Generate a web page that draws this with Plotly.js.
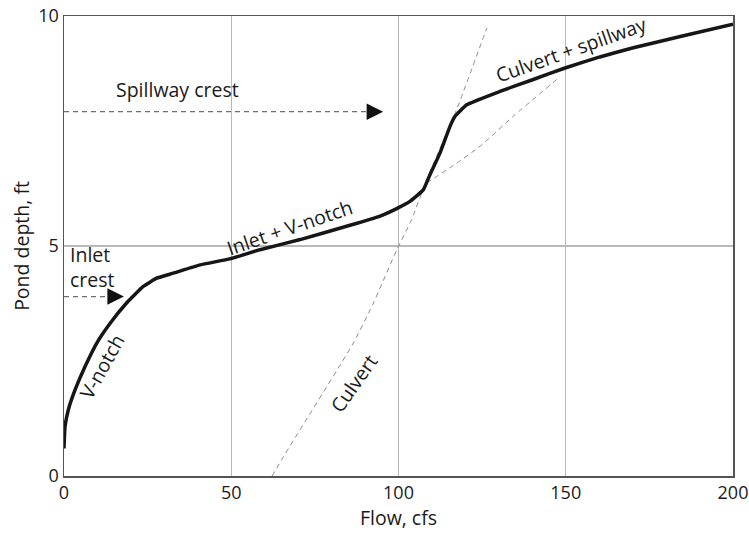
<!DOCTYPE html>
<html>
<head>
<meta charset="utf-8">
<script src="https://cdn.plot.ly/plotly-3.0.1.min.js"></script>
<style>html,body{margin:0;padding:0;background:#fff;}#chart{width:749px;height:540px;}</style>
</head>
<body>
<div id="chart"></div>
<script>
// Combined stage-discharge curve (thick black)
const totalFlow  = [0, 0.3, 1.3, 3.3, 6.3, 9.8, 13.8, 18.7, 23.7, 27.7, 32.7, 40.7, 49.6, 58.6, 70.6, 85.5, 94.5, 99.9, 103.4, 107.4, 109.4, 112.4, 115.4, 116.9, 120.4, 130.3, 140.3, 149.8, 160.2, 170.2, 185.2, 200];
const totalDepth = [0.6, 1.07, 1.44, 1.87, 2.38, 2.89, 3.32, 3.76, 4.12, 4.30, 4.41, 4.59, 4.72, 4.92, 5.14, 5.45, 5.65, 5.83, 5.97, 6.22, 6.55, 7.02, 7.60, 7.82, 8.07, 8.36, 8.62, 8.87, 9.11, 9.31, 9.57, 9.82];

// Culvert-only curve (dashed)
const culvertFlow  = [62.2, 65.6, 86.5, 92.5, 99.5, 103.9, 108.4, 117.4, 126.4];
const culvertDepth = [0, 0.42, 2.89, 3.76, 4.92, 5.57, 6.44, 7.97, 9.74];

// Inlet + V-notch extension (dashed)
const extFlow  = [108.4, 117.4, 124.4, 134.3, 147.3];
const extDepth = [6.37, 6.80, 7.17, 7.82, 8.62];

// Crest levels and arrow tips
const crestNames  = ["Spillway crest", "Inlet<br>crest"];
const crestDepth  = [7.92, 3.9];
const crestArrowX = [95.4, 17.9];

// Curve labels
const labelText  = ["V-notch", "Inlet + V-notch", "Culvert", "Culvert + spillway"];
const labelX     = [11.3, 67.3, 86.5, 151.5];
const labelY     = [2.38, 5.40, 2.02, 9.27];
const labelAngle = [-61, -19, -55, -19.5];

const xTicks = [0, 50, 100, 150, 200];
const yTicks = [0, 5, 10];

const FONT = "'Open Sans', Lato, sans-serif";
const TXT = 19.5;
const dashGray = "#8c8c8c";

const traces = [
  {x: culvertFlow, y: culvertDepth, mode: "lines", line: {color: dashGray, width: 1, dash: "5px,4px", shape: "spline", smoothing: 0.5}, hoverinfo: "skip"},
  {x: extFlow, y: extDepth, mode: "lines", line: {color: dashGray, width: 1, dash: "5px,4px", shape: "spline", smoothing: 0.5}, hoverinfo: "skip"},
  {x: totalFlow, y: totalDepth, mode: "lines", line: {color: "#161616", width: 3.5, shape: "spline", smoothing: 0.35}, hoverinfo: "skip"}
];

const shapes = crestDepth.map((d, i) => ({
  type: "line", xref: "x", yref: "y", x0: 0, x1: crestArrowX[i] - 3, y0: d, y1: d,
  line: {color: "#6e6e6e", width: 1.2, dash: "5px,4px"}
}));

const annotations = [];
crestDepth.forEach((d, i) => {
  annotations.push({x: crestArrowX[i], y: d, xref: "x", yref: "y", ax: -8, ay: 0,
    showarrow: true, arrowhead: 2, arrowsize: 3, arrowwidth: 1.1, arrowcolor: "#111", standoff: 0, text: ""});
});
annotations.push({x: 34, y: 8.4, xref: "x", yref: "y", text: crestNames[0], showarrow: false,
  font: {family: FONT, size: TXT, color: "#1a1a1a"}});
annotations.push({x: 1.3, y: 4.55, xref: "x", yref: "y", text: crestNames[1], showarrow: false, xanchor: "left", align: "left",
  font: {family: FONT, size: TXT, color: "#1a1a1a"}});
labelText.forEach((t, i) => {
  annotations.push({x: labelX[i], y: labelY[i], xref: "x", yref: "y", text: t, showarrow: false, textangle: labelAngle[i],
    font: {family: FONT, size: TXT, color: "#1a1a1a"}});
});

const layout = {
  width: 749, height: 540,
  margin: {l: 64, r: 16, t: 16, b: 64},
  paper_bgcolor: "#fff", plot_bgcolor: "#fff",
  showlegend: false,
  font: {family: FONT, size: TXT, color: "#1a1a1a"},
  xaxis: {range: [0, 200], tickvals: xTicks, ticks: "", showgrid: true, gridcolor: "#b9b9b9", gridwidth: 1.3,
    zeroline: false, showline: true, linecolor: "#555", linewidth: 1.5, mirror: true,
    tickfont: {family: FONT, size: 18}, title: {text: "Flow, cfs", font: {family: FONT, size: TXT}, standoff: 8}},
  yaxis: {range: [0, 10], tickvals: yTicks, ticks: "", showgrid: true, gridcolor: "#b9b9b9", gridwidth: 1.3,
    zeroline: false, showline: true, linecolor: "#555", linewidth: 1.5, mirror: true,
    tickfont: {family: FONT, size: 18}, title: {text: "Pond depth, ft", font: {family: FONT, size: TXT}, standoff: 3}},
  shapes: shapes,
  annotations: annotations
};

Plotly.newPlot("chart", traces, layout, {displayModeBar: false, staticPlot: true});
</script>
</body>
</html>
